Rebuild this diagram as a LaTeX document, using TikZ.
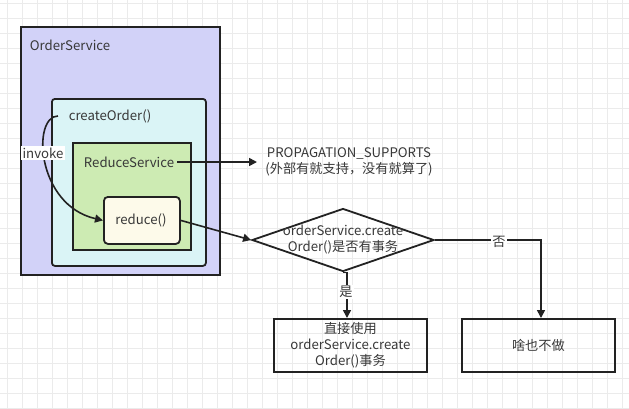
\documentclass[tikz,border=0pt]{standalone}
\usepackage{fontspec}
\setmainfont{Noto Sans CJK SC}
\usetikzlibrary{arrows.meta,shapes.geometric}
\definecolor{txt}{HTML}{383838}
\definecolor{ln}{HTML}{222222}
\definecolor{gridc}{HTML}{EBEBEB}
\definecolor{osfill}{HTML}{D2D2F8}
\definecolor{cofill}{HTML}{DAF4F6}
\definecolor{rsfill}{HTML}{CDEBB3}
\definecolor{rdfill}{HTML}{FDFAEA}
\tikzset{
  box/.style={draw=ln,line width=1.8pt,anchor=north west,inner sep=0pt},
  lbl/.style={text=txt,font=\fontsize{13.2}{16}\selectfont,inner sep=1pt},
  conn/.style={draw=ln,line width=1.6pt,-{Triangle[length=8pt,width=8pt]}},
}
\begin{document}
\begin{tikzpicture}[x=1pt,y=-1pt]
\useasboundingbox (0,0) rectangle (629,408);
\fill[white] (0,0) rectangle (629,408);
\foreach \i in {7,22,...,629} \draw[gridc,line width=0.8pt] (\i,0) -- (\i,408);
\foreach \j in {3,18,...,408} \draw[gridc,line width=0.8pt] (0,\j) -- (629,\j);
% containers
\node[box,fill=osfill,minimum width=199pt,minimum height=248pt] (os) at (20,26) {};
\node[box,fill=cofill,rounded corners=3pt,minimum width=154pt,minimum height=167pt] (co) at (51,98) {};
\node[box,fill=rsfill,minimum width=118pt,minimum height=107pt] (rs) at (72,142) {};
\node[box,fill=rdfill,rounded corners=4pt,minimum width=76pt,minimum height=47pt] (rd) at (103,196) {};
\node[lbl] (osl) at (70,45) {OrderService};
\node[lbl] (col) at (110,116) {createOrder()};
\node[lbl] (rsl) at (129,162) {ReduceService};
\node[lbl] (rdl) at (141,220) {reduce()};
% propagation text
\node[lbl,align=center] (prop) at (349,162) {PROPAGATION\_SUPPORTS\\(外部有就支持，没有就算了)};
\coordinate (propin) at (257,162);
\draw[conn] (rsl.east) ++(2,0) coordinate (rsout) (rsout) -- (propin);
% decision
\node[draw=ln,line width=1.8pt,diamond,aspect=2.9,inner sep=0pt,minimum width=182pt,minimum height=63pt] (dec) at (343,240) {};
\node[lbl,align=center] (decl) at (343,240) {orderService.create\\Order()是否有事务};
\draw[conn] (rd.east) -- (dec.west);
% outcome boxes
\node[box,minimum width=153pt,minimum height=53pt] (yes) at (273,318) {};
\node[lbl,align=center] at (yes.center) {直接使用\\orderService.create\\Order()事务};
\node[box,minimum width=153pt,minimum height=53pt] (no) at (461,318) {};
\node[lbl] at (no.center) {啥也不做};
\draw[conn] (dec.south) ++(4,0) coordinate (ds) (dec.south) -- (ds) -- (yes.north -| ds);
\node[lbl,fill=white,inner sep=1pt] at (346,292) {是};
\draw[conn] (dec.east) -| (no.north -| 541,0);
\node[lbl,fill=white,inner sep=1pt] at (499,242) {否};
% invoke
\coordinate (inv0) at (58,116);
\draw[conn] (inv0) .. controls (32,116) and (36,205) .. (rd.west);
\node[lbl,fill=white,inner sep=1.5pt] at (43,153) {invoke};
\end{tikzpicture}
\end{document}
